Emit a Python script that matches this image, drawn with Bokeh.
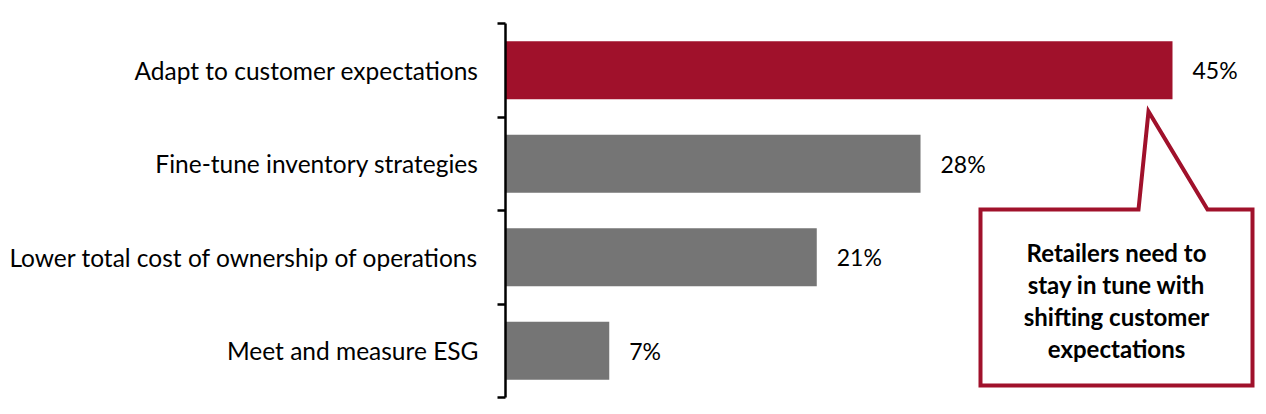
from bokeh.plotting import figure
from bokeh.models import FixedTicker, LinearAxis, Range1d, ColumnDataSource
from bokeh.core.properties import value
from bokeh.embed import file_html
from bokeh.resources import INLINE

categories = ["Adapt to customer expectations",
              "Fine-tune inventory strategies",
              "Lower total cost of ownership of operations",
              "Meet and measure ESG"]
values = [45, 28, 21, 7]
colors = ["#A0112B", "#757575", "#757575", "#757575"]
callout_lines = ["Retailers need to", "stay in tune with",
                 "shifting customer", "expectations"]

FONT = "Lato"
W, H = 1266, 414
L, R, T, B = 505, 1262, 23, 397
n = len(categories)
ppx = (1172 - L) / values[0]          # pixels per percent
xmax = (R - L) / ppx
ppy = (B - T) / n

ypos = [n - 1 - i for i in range(n)]
src = ColumnDataSource(dict(y=ypos, v=values, c=colors,
                            lab=[f"{v}%" for v in values]))

p = figure(width=W, height=H, output_backend="svg", toolbar_location=None,
           x_range=Range1d(0, xmax), y_range=Range1d(-0.5, n - 0.5),
           min_border_left=L, min_border_right=W - R,
           min_border_top=T, min_border_bottom=H - B,
           y_axis_location=None)
p.outline_line_color = None
p.grid.visible = False
p.xaxis.visible = False
p.background_fill_color = "white"

ax = LinearAxis()
ax.ticker = FixedTicker(ticks=ypos, minor_ticks=[k - 0.5 for k in range(n + 1)])
ax.major_label_overrides = {ypos[i]: categories[i] for i in range(n)}
ax.major_tick_line_color = None
ax.major_tick_out = 0
ax.major_tick_in = 0
ax.minor_tick_out = 8
ax.minor_tick_in = 0
ax.minor_tick_line_width = 2.5
ax.minor_tick_line_color = "black"
ax.axis_line_width = 2.5
ax.axis_line_color = "black"
ax.major_label_standoff = 19
ax.major_label_text_font = FONT
ax.major_label_text_font_size = "24.5px"
ax.major_label_text_color = "black"
p.add_layout(ax, "left")

p.hbar(y="y", right="v", left=0, height=58 / ppy, fill_color="c",
       line_color=None, source=src)
p.text(x="v", y="y", text="lab", source=src, x_offset=20,
       text_align="left", text_baseline="middle",
       text_font=value(FONT), text_font_size="23px", text_color="black")

# callout shape (pixel layout converted to data coords)
def dx(px):
    return (px - L) / ppx

def dy(py):
    return (n - 0.5) - (py - T) / ppy

bx0, bx1, by0, by1 = 980, 1252, 209, 385
tipx, tipy = 1148, 111
pxs = [bx0, 1138, tipx, 1207, bx1, bx1, bx0]
pys = [by0, by0, tipy, by0, by0, by1, by1]
p.patch([dx(v) for v in pxs], [dy(v) for v in pys], fill_color="white",
        line_color="#A0112B", line_width=4, line_join="miter")

cx = (bx0 + bx1) / 2
line_ys = [252, 284, 316, 348]
p.text(x=[dx(cx)] * len(callout_lines), y=[dy(v) for v in line_ys],
       text=callout_lines, text_align="center", text_baseline="middle",
       text_font=value(FONT), text_font_style="bold",
       text_font_size="24px", text_color="black")

open("out.html", "w").write(file_html(p, INLINE))
